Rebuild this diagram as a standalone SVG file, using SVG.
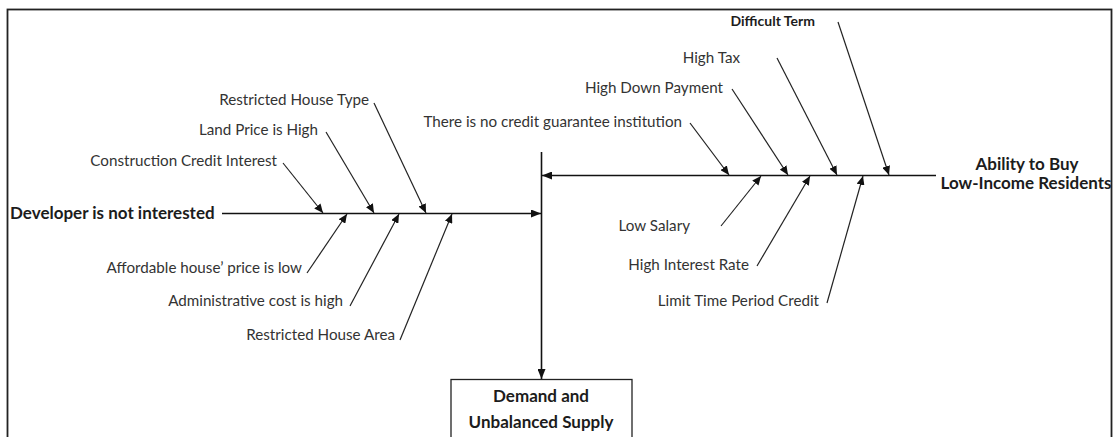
<svg xmlns="http://www.w3.org/2000/svg" width="1117" height="437" viewBox="0 0 1117 437">
  <style>
    .lbl { font-family: Lato, "Open Sans", "Liberation Sans", sans-serif; font-size: 15.2px; fill: #333; }
    .bold { font-family: Lato, "Open Sans", "Liberation Sans", sans-serif; font-weight: bold; font-size: 17px; fill: #1c1c1c; }
    .spine { stroke: #111; stroke-width: 1.6; fill: none; }
    .bone { stroke: #222; stroke-width: 1.2; fill: none; }
  </style>
  <defs>
    <marker id="head" viewBox="0 0 10 8" refX="10" refY="4" markerWidth="10" markerHeight="8" markerUnits="userSpaceOnUse" orient="auto">
      <path d="M0,0 L10,4 L0,8 z" fill="#111"/>
    </marker>
    <marker id="tip" viewBox="0 0 9 8" refX="9" refY="4" markerWidth="9" markerHeight="8" markerUnits="userSpaceOnUse" orient="auto">
      <path d="M0,0 L9,4 L0,8 z" fill="#111"/>
    </marker>
  </defs>

  <rect x="0" y="0" width="1117" height="437" fill="#fff"/>
  <!-- outer frame (open at the bottom edge) -->
  <rect x="7.5" y="9.5" width="1104" height="450" fill="none" stroke="#222" stroke-width="1.8"/>

  <!-- connectors: main spines and cause bones -->
  <g id="connectors">
    <line class="spine" x1="222" y1="213.5" x2="541" y2="213.5" marker-end="url(#head)"/>
    <line class="spine" x1="936" y1="175.5" x2="542" y2="175.5" marker-end="url(#head)"/>
    <line class="spine" x1="541.5" y1="152" x2="541.5" y2="379" marker-end="url(#head)"/>

    <!-- developer side, above -->
    <line class="bone" x1="283" y1="163" x2="323" y2="213" marker-end="url(#tip)"/>
    <line class="bone" x1="326" y1="132" x2="374" y2="213" marker-end="url(#tip)"/>
    <line class="bone" x1="374" y1="103" x2="426" y2="213" marker-end="url(#tip)"/>
    <!-- developer side, below -->
    <line class="bone" x1="307" y1="273" x2="347" y2="214" marker-end="url(#tip)"/>
    <line class="bone" x1="350" y1="306" x2="399" y2="214" marker-end="url(#tip)"/>
    <line class="bone" x1="400" y1="340" x2="452" y2="214" marker-end="url(#tip)"/>

    <!-- buyer side, above -->
    <line class="bone" x1="690" y1="123" x2="729" y2="175" marker-end="url(#tip)"/>
    <line class="bone" x1="732" y1="89" x2="788" y2="175" marker-end="url(#tip)"/>
    <line class="bone" x1="777" y1="58" x2="837" y2="175" marker-end="url(#tip)"/>
    <line class="bone" x1="838" y1="22" x2="889" y2="175" marker-end="url(#tip)"/>
    <!-- buyer side, below -->
    <line class="bone" x1="721" y1="226" x2="761" y2="176" marker-end="url(#tip)"/>
    <line class="bone" x1="757" y1="266" x2="810" y2="176" marker-end="url(#tip)"/>
    <line class="bone" x1="827" y1="303" x2="863" y2="176" marker-end="url(#tip)"/>
  </g>

  <!-- head categories -->
  <g id="developer">
    <text class="bold" x="10" y="219">Developer is not interested</text>
  </g>
  <g id="ability">
    <text class="bold" x="1027" y="170" text-anchor="middle">Ability to Buy</text>
    <text class="bold" x="1026" y="189" text-anchor="middle">Low-Income Residents</text>
  </g>
  <g id="outcome">
    <rect x="451" y="379.5" width="181" height="70" fill="#fff" stroke="#222" stroke-width="1.3"/>
    <text class="bold" x="541" y="402" text-anchor="middle">Demand and</text>
    <text class="bold" x="541" y="428" text-anchor="middle">Unbalanced Supply</text>
  </g>

  <!-- developer causes -->
  <g id="c-construction"><text class="lbl" x="277" y="166" text-anchor="end">Construction Credit Interest</text></g>
  <g id="c-land"><text class="lbl" x="318" y="135" text-anchor="end">Land Price is High</text></g>
  <g id="c-type"><text class="lbl" x="369" y="105" text-anchor="end">Restricted House Type</text></g>
  <g id="c-affordable"><text class="lbl" x="302" y="273" text-anchor="end">Affordable house’ price is low</text></g>
  <g id="c-admin"><text class="lbl" x="343" y="306" text-anchor="end">Administrative cost is high</text></g>
  <g id="c-area"><text class="lbl" x="395" y="340" text-anchor="end">Restricted House Area</text></g>

  <!-- buyer causes -->
  <g id="c-guarantee"><text class="lbl" x="682" y="127" text-anchor="end">There is no credit guarantee institution</text></g>
  <g id="c-down"><text class="lbl" x="723" y="93" text-anchor="end">High Down Payment</text></g>
  <g id="c-tax"><text class="lbl" x="740" y="63" text-anchor="end">High Tax</text></g>
  <g id="c-term"><text class="bold" x="815" y="26" font-size="14" style="font-size:14px" text-anchor="end">Difficult Term</text></g>
  <g id="c-salary"><text class="lbl" x="690" y="231" text-anchor="end">Low Salary</text></g>
  <g id="c-interest"><text class="lbl" x="749" y="270" text-anchor="end">High Interest Rate</text></g>
  <g id="c-period"><text class="lbl" x="819" y="306" text-anchor="end">Limit Time Period Credit</text></g>
</svg>
